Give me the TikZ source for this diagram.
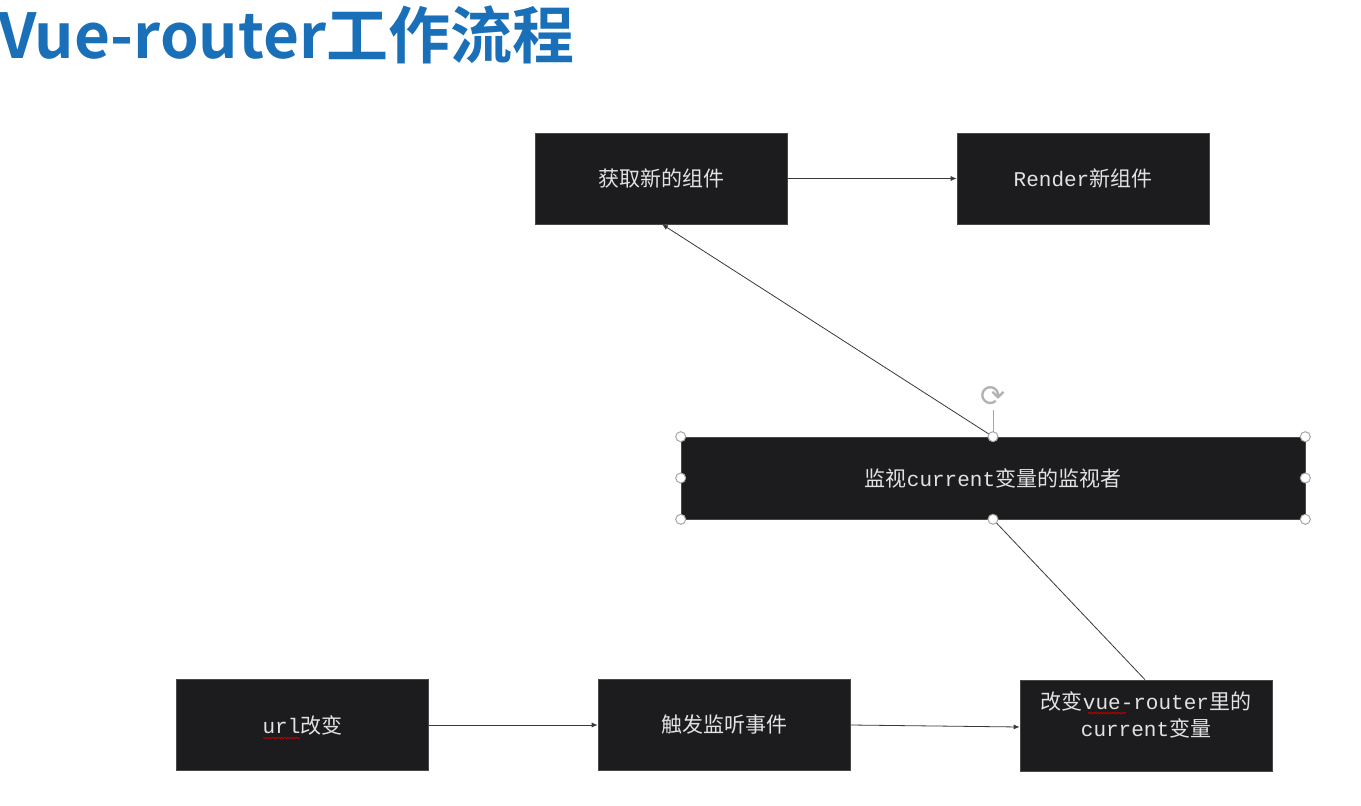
\documentclass[tikz,border=0pt]{standalone}
\usepackage{fontspec}
\setmonofont{Liberation Mono}
\newfontfamily\cjk{Noto Sans CJK SC}
\newfontfamily\cjkbold{Noto Sans CJK SC Bold}
\usetikzlibrary{arrows.meta,decorations.pathmorphing}
\definecolor{boxfill}{HTML}{1C1B1D}
\definecolor{boxtext}{HTML}{E2E2E2}
\definecolor{titleblue}{HTML}{1A70B8}
\definecolor{linegray}{HTML}{3A3A3A}
\tikzset{
  box/.style={draw=boxfill!80!white, line width=0.6pt, fill=boxfill, text=boxtext,
    minimum width=252pt, minimum height=91pt, inner sep=0pt, align=center,
    font=\fontsize{21}{27}\selectfont},
  conn/.style={draw=linegray, line width=0.8pt},
  arr/.style={conn, -{Latex[length=6pt,width=5pt]}},
  handle/.style={circle, draw=gray!70, fill=white, line width=1pt, minimum size=10pt, inner sep=0pt},
  squig/.style={draw=red!80!black, line width=0.7pt, decorate,
    decoration={snake, amplitude=0.8pt, segment length=3pt}}
}
\begin{document}
\begin{tikzpicture}[x=1pt,y=-1pt]
\useasboundingbox (0,0) rectangle (1361,806);
\fill[white] (0,0) rectangle (1361,806);
% title
\node[anchor=base west, inner sep=0pt, text=titleblue,
  font=\cjkbold\fontsize{62}{66}\selectfont] (title) at (-2,58) {Vue-router工作流程};
% boxes
\node[box] (get) at (661,178.5) {{\cjk 获取新的组件}};
\node[box] (render) at (1083,178.5) {\ttfamily Render{\cjk 新组件}};
\node[box, minimum width=624pt, minimum height=82pt] (watch) at (993,478) {{\cjk 监视}\ttfamily current{\cjk 变量的监视者}};
\node[box] (url) at (302.5,725) {\ttfamily url{\cjk 改变}};
\node[box] (trig) at (724,725) {{\cjk 触发监听事件}};
\node[box] (chg) at (1146,725.5) {};
\node[anchor=center, inner sep=0pt, text=boxtext, align=center,
  font=\fontsize{21}{27}\selectfont] (chgtext) at (1146,715) {{\cjk 改变}\ttfamily vue-router{\cjk 里的}\\\ttfamily current{\cjk 变量}};
% connectors
\draw[arr] (get.east) -- (render.west);
\draw[arr] (url.east) -- (trig.west);
\draw[arr] (trig.east) -- ([yshift=-1.5pt]chg.west);
\draw[arr] (watch.north) -- ([xshift=1pt]get.south);
\draw[conn] ([xshift=-1pt]chg.north) -- (watch.south);
% selection handles
\coordinate (rot) at (993,397);
\draw[gray!70, line width=1pt] (watch.north) -- (993,410);
\node[inner sep=0pt, text=gray!60, font=\fontspec{DejaVu Sans}\fontsize{30}{30}\selectfont] (roticon) at (rot) {⟳};
\foreach \a in {north west,north,north east,west,east,south west,south,south east}
  \node[handle] at (watch.\a) {};
% spelling squiggles
\coordinate (s1) at (263,738);
\coordinate (s2) at (300,738);
\draw[squig] (s1) -- (s2);
\coordinate (s3) at (1088,713);
\coordinate (s4) at (1126,713);
\draw[squig] (s3) -- (s4);
\end{tikzpicture}
\end{document}
